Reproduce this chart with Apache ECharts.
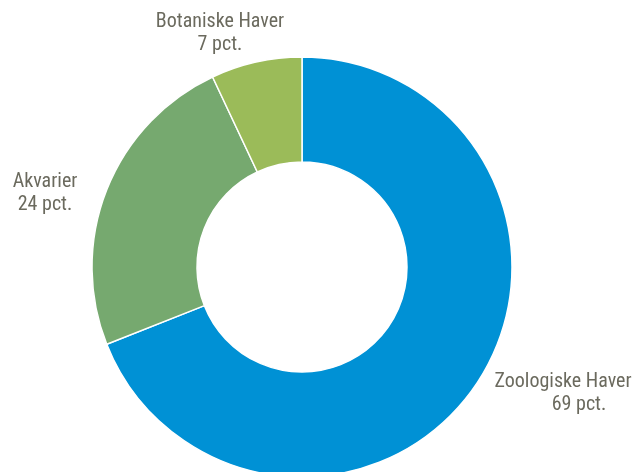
<!DOCTYPE html>
<html><head><meta charset="utf-8">
<script src="https://cdn.jsdelivr.net/npm/echarts@6/dist/echarts.min.js"></script>
<style>html,body{margin:0;padding:0;background:#fff}#c{width:632px;height:472px}</style>
</head><body><div id="c"></div>
<script>
const categories = ['Zoologiske Haver', 'Akvarier', 'Botaniske Haver'];
const values = [69, 24, 7];
const colors = ['#0091D5', '#76A96F', '#9BBB59'];
// label centre positions (text only)
const labelPos = [[563, 393], [45, 193], [220, 33]];
const chart = echarts.init(document.getElementById('c'));
chart.setOption({
  animation: false,
  series: [{
    type: 'pie',
    center: [302, 267],
    radius: [105, 210],
    startAngle: 90,
    clockwise: true,
    data: categories.map((n, i) => ({ name: n, value: values[i], itemStyle: { color: colors[i] } })),
    itemStyle: { borderColor: '#fff', borderWidth: 1.5 },
    label: {
      show: true,
      position: 'outside',
      overflow: 'none',
      formatter: p => p.name + '\n' + (p.dataIndex === 0 ? '{s|' + p.value + ' pct.}' : p.value + ' pct.'),
      fontFamily: "'Roboto Condensed','Liberation Sans Narrow',sans-serif",
      fontSize: 20,
      lineHeight: 23,
      color: '#6B6A5E',
      align: 'center',
      rich: {
        s: { padding: [0, 0, 0, 32], fontFamily: "'Roboto Condensed',sans-serif", fontSize: 20, lineHeight: 23, color: '#6B6A5E' }
      }
    },
    labelLine: { show: false },
    labelLayout: function (p) {
      const q = labelPos[p.dataIndex];
      return { x: q[0], y: q[1], align: 'center', verticalAlign: 'middle' };
    }
  }]
});
</script></body></html>
